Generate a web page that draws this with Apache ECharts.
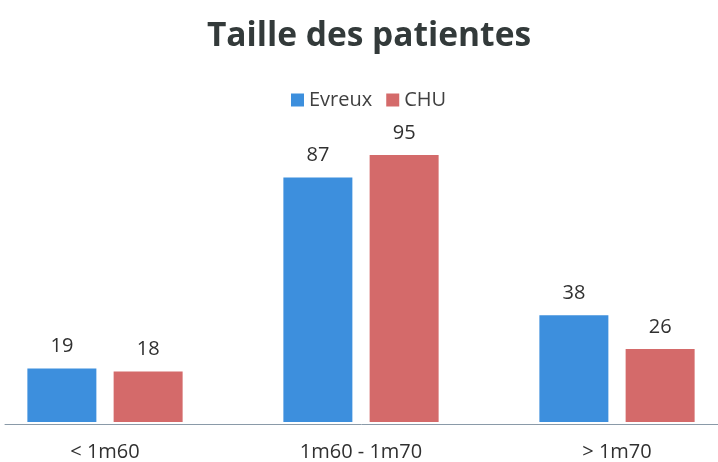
<!DOCTYPE html>
<html>
<head>
<meta charset="utf-8">
<script src="https://cdn.jsdelivr.net/npm/echarts@6/dist/echarts.min.js"></script>
<style>
  html, body { margin: 0; padding: 0; background: #fff; }
  #chart { width: 718px; height: 462px; }
</style>
</head>
<body>
<div id="chart"></div>
<script>
const categories = ["< 1m60", "1m60 - 1m70", "> 1m70"];
const evreux = [19, 87, 38];
const chu = [18, 95, 26];

const chart = echarts.init(document.getElementById("chart"));
const font = "'Open Sans', sans-serif";
const labelStyle = { show: true, position: "top", distance: 12, fontSize: 20, color: "#303030", fontFamily: font };

chart.setOption({
  animation: false,
  textStyle: { fontFamily: font },
  title: {
    text: "Taille des patientes",
    left: 364,
    textAlign: "center",
    top: 14,
    textStyle: { fontSize: 33.5, fontWeight: "bold", color: "#333a3a", fontFamily: font },
  },
  legend: {
    data: ["Evreux", "CHU"],
    left: 286,
    top: 85,
    itemWidth: 13,
    itemHeight: 13,
    itemGap: 14,
    icon: "rect",
    textStyle: { fontSize: 20, color: "#404040", fontFamily: font },
  },
  // category centres sit on the ticks, so the plot spans first to last group
  grid: [
    { left: 105, right: 101, top: 141, bottom: 38 },
    { left: 5, right: 0, top: 141, bottom: 38 },
  ],
  xAxis: [
    {
      type: "category",
      data: categories,
      boundaryGap: false,
      axisTick: { show: false },
      axisLine: { show: false },
      axisLabel: { fontSize: 20, color: "#303030", margin: 20, fontFamily: font },
    },
    {
      type: "value",
      gridIndex: 1,
      min: 0,
      max: 1,
      axisTick: { show: false },
      axisLabel: { show: false },
      splitLine: { show: false },
      axisLine: { lineStyle: { color: "#8a9aa8", width: 1 } },
    },
  ],
  yAxis: [
    { type: "value", min: 0, max: 100, show: false, splitLine: { show: false } },
    { type: "value", gridIndex: 1, min: 0, max: 1, show: false, splitLine: { show: false } },
  ],
  series: [
    {
      name: "Evreux",
      type: "bar",
      data: evreux,
      barWidth: 69,
      barGap: "25%",
      itemStyle: { color: "#3d8fdd" },
      label: labelStyle,
    },
    {
      name: "CHU",
      type: "bar",
      data: chu,
      barWidth: 69,
      barGap: "25%",
      itemStyle: { color: "#d46a6a" },
      label: labelStyle,
    },
  ],
});
</script>
</body>
</html>
